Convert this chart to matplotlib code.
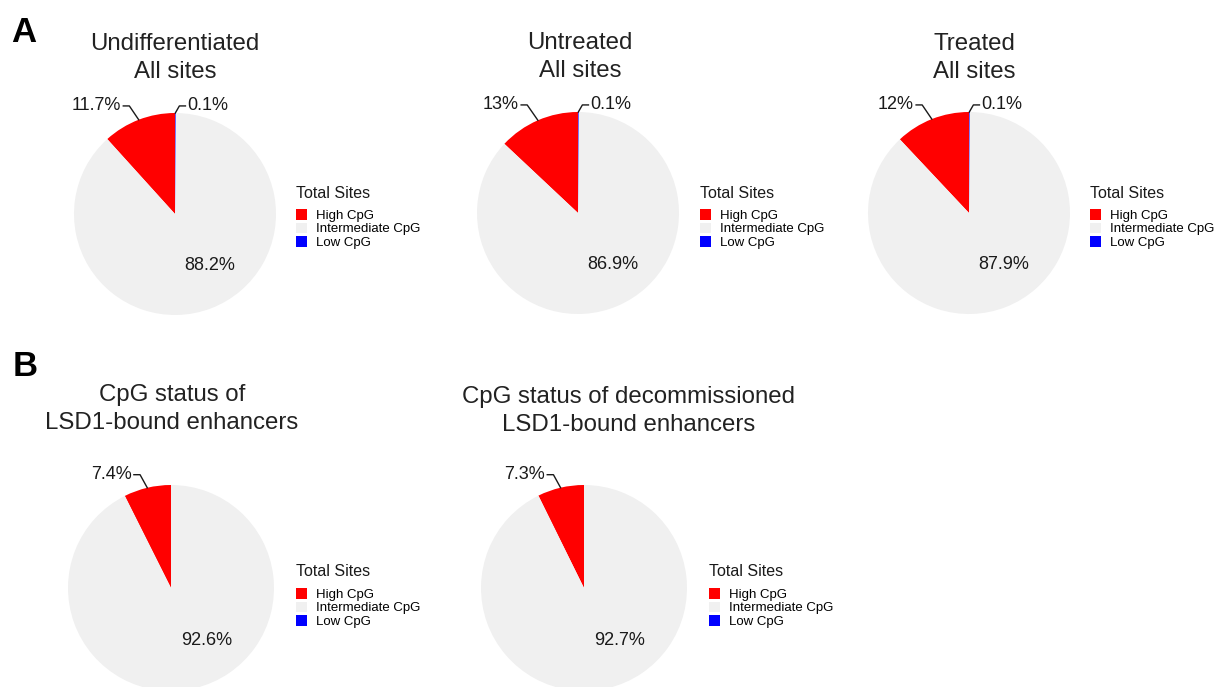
import numpy as np
import matplotlib.pyplot as plt
from matplotlib.patches import Patch

plt.rcParams['font.family'] = ['Liberation Sans', 'DejaVu Sans']

# 数据
categories = ['High CpG', 'Intermediate CpG', 'Low CpG']
colors = ['#FF0000', '#F0F0F0', '#0000FF']

titles = ['Undifferentiated\nAll sites', 'Untreated\nAll sites', 'Treated\nAll sites',
          'CpG status of\nLSD1-bound enhancers',
          'CpG status of decommissioned\nLSD1-bound enhancers']
high_cpg = [11.7, 13.0, 12.0, 7.4, 7.3]
intermediate_cpg = [88.2, 86.9, 87.9, 92.6, 92.7]
low_cpg = [0.1, 0.1, 0.1, 0.0, 0.0]
high_labels = ['11.7%', '13%', '12%', '7.4%', '7.3%']
inter_labels = ['88.2%', '86.9%', '87.9%', '92.6%', '92.7%']
low_labels = ['0.1%', '0.1%', '0.1%', None, None]

# 布局（像素，左上为原点）
W, H = 1215, 687
pie_xy = [(175, 214, 101), (578, 213, 101), (969, 213, 101), (171, 588, 103), (584, 588, 103)]
legend_xy = [(296, 193), (700, 193), (1090, 193), (296, 572), (709, 572)]
title_xy = [(175, 58), (580, 57), (974, 58), (172, 409), (629, 411)]
label_level = [1.07, 1.07, 1.07, 1.10, 1.10]
txt_col = '#1a1a1a'

fig = plt.figure(figsize=(W / 100, H / 100), dpi=100)

for i in range(5):
    cx, cy, r = pie_xy[i]
    ax = fig.add_axes([(cx - r) / W, 1 - (cy + r) / H, 2 * r / W, 2 * r / H])
    vals = [high_cpg[i], intermediate_cpg[i], low_cpg[i]]
    ax.pie(vals, colors=colors, startangle=90, counterclock=True, radius=1,
           wedgeprops=dict(linewidth=0))
    ax.set_xlim(-1, 1)
    ax.set_ylim(-1, 1)
    ax.axis('off')

    # 外部标签 + 引线
    ly = label_level[i]
    outer = [(90 + high_cpg[i] * 1.8, -1, high_labels[i]),
             (90 - low_cpg[i] * 1.8, 1, low_labels[i])]
    for ang, side, lab in outer:
        if lab is None:
            continue
        a = np.deg2rad(ang)
        k = ly / np.sin(a)
        p0 = (np.cos(a), np.sin(a))
        p1 = (k * np.cos(a) + side * 0.04, ly)
        p2 = (p1[0] + side * 0.06, ly)
        ax.plot([p0[0], p1[0], p2[0]], [p0[1], p1[1], p2[1]], color=txt_col,
                lw=1, clip_on=False)
        ax.text(p2[0] + side * 0.02, ly, lab, ha='right' if side < 0 else 'left',
                va='center', fontsize=13, color=txt_col, clip_on=False)

    # 内部标签
    a = np.deg2rad(304)
    ax.text(0.62 * np.cos(a), 0.62 * np.sin(a), inter_labels[i], ha='center',
            va='center', fontsize=13, color=txt_col)

    tx, ty = title_xy[i]
    fig.text(tx / W, 1 - ty / H, titles[i], ha='center', va='center',
             fontsize=17.3, color='#222222', linespacing=1.38)

    # 图例
    lx, lyy = legend_xy[i]
    fig.text(lx / W, 1 - lyy / H, 'Total Sites', ha='left', va='center',
             fontsize=11.5, color=txt_col)
    handles = [Patch(facecolor=c, edgecolor='none') for c in colors]
    fig.legend(handles, categories, loc='upper left',
               bbox_to_anchor=(lx / W, 1 - (lyy + 16) / H), frameon=False,
               fontsize=9.5, borderpad=0, borderaxespad=0,
               handlelength=0.85, handleheight=0.85, handletextpad=0.7,
               labelspacing=0.06)

fig.text(24 / W, 1 - 32 / H, 'A', fontsize=25, fontweight='bold', ha='center', va='center')
fig.text(25 / W, 1 - 367 / H, 'B', fontsize=25, fontweight='bold', ha='center', va='center')

fig.savefig('out.png', dpi=100)
